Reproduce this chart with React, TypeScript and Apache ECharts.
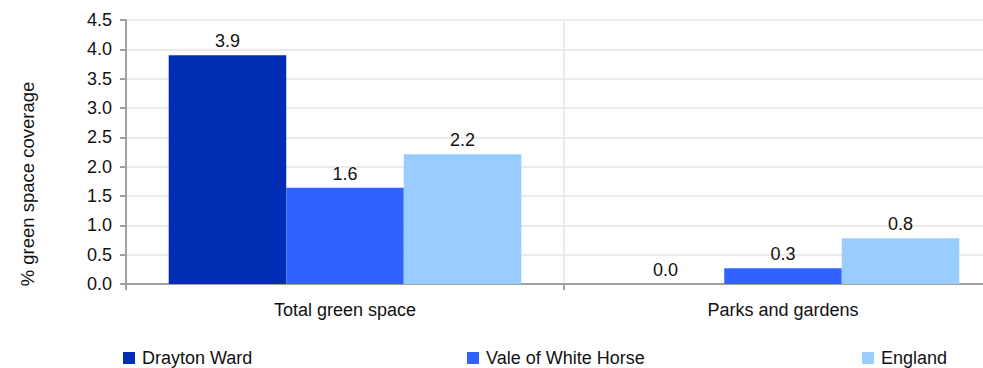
import React, { useEffect, useRef } from "react";
import * as echarts from "echarts";

const categories = ["Total green space", "Parks and gardens"];
const seriesNames = ["Drayton Ward", "Vale of White Horse", "England"];
const draytonWard = [3.9, 0.0];
const valeOfWhiteHorse = [1.64, 0.27];
const england = [2.21, 0.78];
const colors = ["#002DB3", "#2F62FF", "#99CCFF"];
const yAxisTitle = "% green space coverage";

export default function App() {
  const ref = useRef<HTMLDivElement>(null);
  useEffect(() => {
    if (!ref.current) return;
    const chart = echarts.init(ref.current, null, { renderer: "svg" });
    const font = "Liberation Sans, Arial, sans-serif";
    const fs = 18;
    const data = [draytonWard, valeOfWhiteHorse, england];
    const legendLefts = [123, 467, 862];
    chart.setOption({
      animation: false,
      textStyle: { fontFamily: font },
      grid: { left: 126, top: 20, width: 876, height: 264, outerBoundsMode: "none", containLabel: false },
      xAxis: {
        type: "category",
        data: categories,
        axisLine: { lineStyle: { color: "#a0a0a0", width: 2 } },
        axisTick: { show: true, length: 6, lineStyle: { color: "#a0a0a0", width: 2 } },
        axisLabel: { color: "#111", fontSize: fs, margin: 17, fontFamily: font },
        splitLine: { show: true, lineStyle: { color: "#ebebeb", width: 2 } },
      },
      yAxis: {
        type: "value",
        min: 0,
        max: 4.5,
        interval: 0.5,
        axisLine: { show: true, lineStyle: { color: "#a0a0a0", width: 2 } },
        axisTick: { show: true, length: 6, lineStyle: { color: "#a0a0a0", width: 2 } },
        axisLabel: {
          color: "#111",
          fontSize: fs,
          margin: 14,
          fontFamily: font,
          formatter: (v: number) => v.toFixed(1),
        },
        splitLine: { show: true, lineStyle: { color: "#ebebeb", width: 2 } },
      },
      legend: seriesNames.map((n, i) => ({
        data: [n],
        left: legendLefts[i],
        top: 349,
        padding: 0,
        icon: "rect",
        itemWidth: 12,
        itemHeight: 12,
        textStyle: { color: "#111", fontSize: fs, fontFamily: font, padding: [0, 0, 0, 2] },
      })),
      graphic: [
        {
          type: "text",
          x: 27,
          y: 184,
          rotation: Math.PI / 2,
          style: {
            text: yAxisTitle,
            fill: "#111",
            font: `18.5px ${font}`,
            textAlign: "center",
            textVerticalAlign: "middle",
          },
        },
      ],
      series: seriesNames.map((n, i) => ({
        name: n,
        type: "bar",
        data: data[i],
        barGap: "0%",
        barCategoryGap: "19.5%",
        itemStyle: { color: colors[i] },
        label: {
          show: true,
          position: "top",
          distance: 5,
          color: "#111",
          fontSize: fs,
          fontFamily: font,
          formatter: (p: any) => Number(p.value).toFixed(1),
        },
      })),
    });
    return () => chart.dispose();
  }, []);
  return <div ref={ref} style={{ width: 983, height: 368, position: "absolute", left: 0, top: 0 }} />;
}
